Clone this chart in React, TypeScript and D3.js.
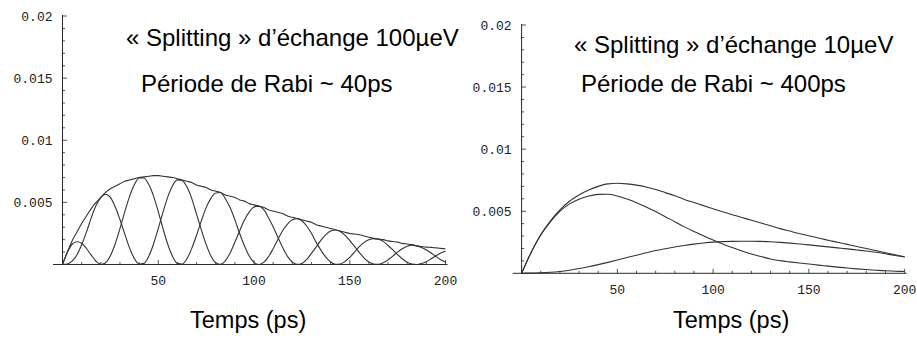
import React from "react";
import * as d3 from "d3";

// ---------- data ----------
const timeL = [0, 2.5, 5, 7.5, 10, 12.5, 15, 17.5, 20, 22.5, 25, 27.5, 30, 32.5, 35, 37.5, 40, 42.5, 45, 47.5, 50, 52.5, 55, 57.5, 60, 62.5, 65, 67.5, 70, 72.5, 75, 77.5, 80, 82.5, 85, 87.5, 90, 92.5, 95, 97.5, 100, 102.5, 105, 107.5, 110, 112.5, 115, 117.5, 120, 122.5, 125, 127.5, 130, 132.5, 135, 137.5, 140, 142.5, 145, 147.5, 150, 152.5, 155, 157.5, 160, 162.5, 165, 167.5, 170, 172.5, 175, 177.5, 180, 182.5, 185, 187.5, 190, 192.5, 195, 197.5, 200];

const envelopeL = [0, 0.0010, 0.0019, 0.0026, 0.0033, 0.0039, 0.0045, 0.0050, 0.0054, 0.0058, 0.0061, 0.0063, 0.0065, 0.0067, 0.0068, 0.0069, 0.0070, 0.00705, 0.0071, 0.00715, 0.00715, 0.0071, 0.00705, 0.0070, 0.0069, 0.0068, 0.0067, 0.0066, 0.0064, 0.0063, 0.0062, 0.0060, 0.0059, 0.0058, 0.0056, 0.0055, 0.0054, 0.0052, 0.0051, 0.0049, 0.0048, 0.0047, 0.0046, 0.0044, 0.0043, 0.0042, 0.0041, 0.0039, 0.0038, 0.0037, 0.0036, 0.0035, 0.0034, 0.0032, 0.0031, 0.0030, 0.0029, 0.0028, 0.0027, 0.0026, 0.0025, 0.00245, 0.0024, 0.0023, 0.0022, 0.0021, 0.00205, 0.0020, 0.0019, 0.00185, 0.0018, 0.0017, 0.00165, 0.0016, 0.0015, 0.00145, 0.0014, 0.00138, 0.00134, 0.0013, 0.00127];

const stateAL = [0, 0.00096, 0.00163, 0.00183, 0.00171, 0.00129, 0.00075, 0.00026, 0.00001, 0.00014, 0.00070, 0.00165, 0.00288, 0.00424, 0.00546, 0.00641, 0.00696, 0.00696, 0.00645, 0.00552, 0.00426, 0.00288, 0.00161, 0.00064, 0.00009, 0.00004, 0.00047, 0.00130, 0.00235, 0.00351, 0.00458, 0.00532, 0.00576, 0.00579, 0.00531, 0.00458, 0.00361, 0.00250, 0.00151, 0.00068, 0.00017, 0, 0.00017, 0.00061, 0.00127, 0.00202, 0.00274, 0.00325, 0.00360, 0.00369, 0.00352, 0.00310, 0.00251, 0.00178, 0.00114, 0.00059, 0.00020, 0.00002, 0.00004, 0.00024, 0.00057, 0.00099, 0.00143, 0.00178, 0.00200, 0.00207, 0.00204, 0.00186, 0.00153, 0.00117, 0.00080, 0.00044, 0.00019, 0.00004, 0, 0.00008, 0.00023, 0.00046, 0.00070, 0.00092, 0.00109];

const stateBL = [0, 0.00004, 0.00027, 0.00077, 0.00159, 0.00261, 0.00375, 0.00474, 0.00539, 0.00566, 0.00540, 0.00465, 0.00362, 0.00246, 0.00134, 0.00049, 0.00004, 0.00009, 0.00065, 0.00163, 0.00289, 0.00422, 0.00544, 0.00636, 0.00681, 0.00676, 0.00623, 0.00530, 0.00405, 0.00279, 0.00162, 0.00068, 0.00014, 0.00001, 0.00029, 0.00092, 0.00179, 0.00270, 0.00359, 0.00422, 0.00463, 0.00470, 0.00443, 0.00379, 0.00303, 0.00218, 0.00136, 0.00065, 0.00020, 0.00001, 0.00008, 0.00040, 0.00089, 0.00142, 0.00196, 0.00241, 0.00270, 0.00278, 0.00266, 0.00236, 0.00193, 0.00146, 0.00097, 0.00052, 0.00020, 0.00003, 0.00001, 0.00014, 0.00037, 0.00068, 0.00100, 0.00126, 0.00146, 0.00156, 0.00150, 0.00137, 0.00117, 0.00092, 0.00064, 0.00038, 0.00018];

const timeR = [0, 5, 10, 15, 20, 25, 30, 35, 40, 45, 50, 55, 60, 65, 70, 75, 80, 85, 90, 95, 100, 105, 110, 115, 120, 125, 130, 135, 140, 145, 150, 155, 160, 165, 170, 175, 180, 185, 190, 195, 200];

const envelopeR = [0, 0.0017, 0.0031, 0.0042, 0.0051, 0.0058, 0.0063, 0.0067, 0.0070, 0.0072, 0.00725, 0.0072, 0.0071, 0.00695, 0.00675, 0.0065, 0.00625, 0.00595, 0.0057, 0.00545, 0.0052, 0.00495, 0.00472, 0.0045, 0.00427, 0.00405, 0.00383, 0.0036, 0.0034, 0.0032, 0.00302, 0.00284, 0.00266, 0.0025, 0.00233, 0.00216, 0.0020, 0.00183, 0.00166, 0.0015, 0.00134];

const stateAR = [0, 0.00168, 0.00308, 0.00414, 0.00498, 0.00559, 0.00597, 0.00622, 0.00636, 0.00637, 0.00623, 0.00598, 0.00569, 0.00535, 0.00497, 0.00456, 0.00416, 0.00374, 0.00337, 0.00302, 0.00268, 0.00236, 0.00207, 0.00180, 0.00155, 0.00135, 0.00115, 0.00102, 0.00092, 0.00083, 0.00075, 0.00066, 0.00058, 0.00050, 0.00043, 0.00036, 0.00030, 0.00025, 0.00020, 0.00017, 0.00014];

const stateBR = [0, 0.00002, 0.00004, 0.00008, 0.00015, 0.00025, 0.00038, 0.00053, 0.00070, 0.00088, 0.00107, 0.00127, 0.00146, 0.00165, 0.00183, 0.00198, 0.00212, 0.00224, 0.00235, 0.00244, 0.00251, 0.00255, 0.00257, 0.00258, 0.00258, 0.00257, 0.00254, 0.00249, 0.00243, 0.00236, 0.00229, 0.00221, 0.00213, 0.00205, 0.00197, 0.00188, 0.00179, 0.00169, 0.00157, 0.00144, 0.00132];

const xTickValues = [50, 100, 150, 200];
const yTickValues = [0.005, 0.01, 0.015, 0.02];
const xLabel = "Temps (ps)";
const titlesL = ["« Splitting » d’échange 100µeV", "Période de Rabi ~ 40ps"];
const titlesR = ["« Splitting » d’échange 10µeV", "Période de Rabi ~ 400ps"];

// ---------- drawing ----------
type PanelProps = {
  time: number[];
  series: number[][];
  x0: number;
  x1: number;
  yTop: number;
  yBottom: number;
  axisStart: number;
  titles: string[];
  titlePos: [number, number][];
  labelX: number;
};

const LINE = "#2a2a2a";
const MONO = "'Liberation Mono', 'Courier New', monospace";
const SANS = "'Liberation Sans', Arial, Helvetica, sans-serif";

function Panel(p: PanelProps) {
  const x = d3.scaleLinear().domain([0, 200]).range([p.x0, p.x1]);
  const y = d3.scaleLinear().domain([0, 0.02]).range([p.yBottom, p.yTop]);
  const line = d3
    .line<number>()
    .x((_, i) => x(p.time[i]))
    .y((d) => y(d))
    .curve(d3.curveMonotoneX);

  const yMinor = d3.range(1, 21).map((i) => i / 1000);
  const xMinor = d3.range(1, 21).map((i) => i * 10);
  const base = y(0);
  const ax = x(0);

  return (
    <g>
      {p.series.map((s, i) => (
        <path key={i} d={line(s) || ""} fill="none" stroke="#333" strokeWidth={1.1} />
      ))}
      <line x1={ax} x2={ax} y1={y(0.02) - 1} y2={base} stroke={LINE} strokeWidth={1} />
      {yMinor.map((v, i) => {
        const major = (i + 1) % 5 === 0;
        return (
          <line key={"ym" + i} x1={ax} x2={ax + (major ? 4.5 : 2.5)} y1={y(v)} y2={y(v)} stroke={LINE} strokeWidth={0.8} />
        );
      })}
      {yTickValues.map((v) => (
        <text key={"yl" + v} x={ax - 10} y={y(v)} dy="0.35em" textAnchor="end" fontFamily={MONO} fontSize={13} fill="#222">
          {String(v)}
        </text>
      ))}
      <line x1={p.axisStart} x2={x(200) + 2} y1={base} y2={base} stroke={LINE} strokeWidth={1} />
      {xMinor.map((v, i) => {
        const major = v % 50 === 0;
        return (
          <line key={"xm" + i} x1={x(v)} x2={x(v)} y1={base} y2={base - (major ? 4.5 : 2.5)} stroke={LINE} strokeWidth={0.8} />
        );
      })}
      {xTickValues.map((v) => (
        <text key={"xl" + v} x={x(v)} y={base + 20.5} textAnchor="middle" fontFamily={MONO} fontSize={13} fill="#222">
          {v}
        </text>
      ))}
      {p.titles.map((t, i) => (
        <text key={"t" + i} x={p.titlePos[i][0]} y={p.titlePos[i][1]} fontFamily={SANS} fontSize={24} fill="#000">
          {t}
        </text>
      ))}
      <text x={p.labelX} y={328} fontFamily={SANS} fontSize={23.5} fill="#000">
        {xLabel}
      </text>
    </g>
  );
}

export default function App() {
  return (
    <svg
      width={917}
      height={343}
      viewBox="0 0 917 343"
      style={{ position: "absolute", left: 0, top: 0, background: "#fff", display: "block" }}
    >
      <rect x={0} y={0} width={917} height={343} fill="#fff" />
      <Panel
        time={timeL}
        series={[envelopeL, stateAL, stateBL]}
        x0={62.5}
        x1={445.5}
        yTop={16}
        yBottom={264.5}
        axisStart={53}
        titles={titlesL}
        titlePos={[[126, 45.5], [141, 92]]}
        labelX={190}
      />
      <Panel
        time={timeR}
        series={[envelopeR, stateAR, stateBR]}
        x0={521.6}
        x1={904.6}
        yTop={25}
        yBottom={273.3}
        axisStart={512.7}
        titles={titlesR}
        titlePos={[[574, 52.5], [581, 92]]}
        labelX={673}
      />
    </svg>
  );
}
